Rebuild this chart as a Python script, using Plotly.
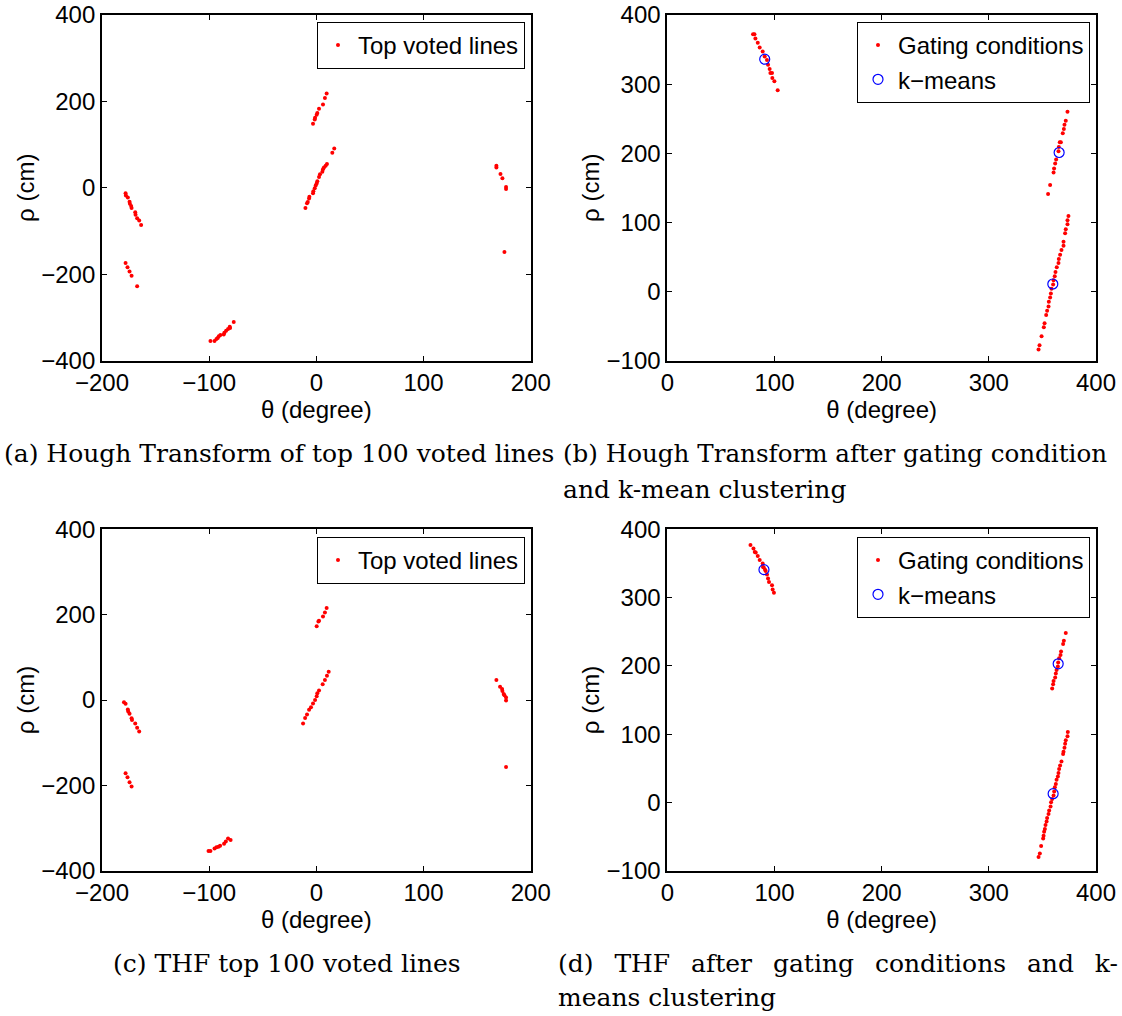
import plotly.graph_objects as go

# ---------------- data ----------------
# (a) Hough Transform of top 100 voted lines
a_theta = [-178, -177.7, -175.9, -174.3, -174, -172.8, -172.4, -169, -168.7, -167.2, -165.3, -163.5,
           -178, -176.2, -174.3, -172.4, -167.2,
           -98.8, -95, -93.2, -92, -91, -89.5, -86.4, -85.8, -84.2, -82.4, -80.8, -80.5, -77.1,
           -3.1, -1.5, -1.2, 0.3, 0.9, 2.5, 6.2, 8.0, 9.6,
           -10.2, -8.7, -8, -6.8, -6.5, -3.1, -2.8, -1.5, -0.6, 0.3, 0.9, 2.5, 3.4, 5.6, 6.2, 7.1, 8.7, 9.9, 14.9, 16.7,
           168, 168, 171.8, 173.6, 177, 177, 175.5]
a_rho = [-13, -17.7, -22.3, -32.3, -37, -42.3, -47, -57, -62.3, -70.8, -76, -86,
         -174, -184, -194, -204, -228,
         -355, -355, -350, -348, -344, -341, -340, -336, -331, -327, -322, -325, -311,
         148, 158, 162, 169, 173, 183, 193, 208, 218,
         -47, -36, -33, -25, -21, -13, -8, -1, 5, 10, 15, 25, 31, 37, 43, 47, 51, 55, 81, 91,
         51, 47, 32, 22, 2, -3, -149]

# (b) Hough Transform after gating condition and k-means clustering
b_theta = [80, 81.3, 82.2, 84.4, 86.2, 89, 90.9, 93, 94, 95.5, 96.2, 97.7, 98, 99.9, 103,
           373.4, 371.8, 370.6, 370, 369, 367.2, 366.2, 365.3, 365, 362.8, 361.9, 360.9, 360.4, 357.2, 355.3,
           374.3, 373.4, 373.4, 371.8, 371.2, 369.7, 369.7, 367.8, 366.5, 365.3, 365, 363.4, 362.2, 361.5,
           360.4, 360, 358.5, 357.9, 357.2, 356, 355.7, 354.4, 353.5, 352, 351.3, 349.2, 347.3, 346.4]
b_rho = [372, 372, 366, 360, 353, 347, 340, 335, 328, 322, 316, 316, 309, 304, 291,
         260, 247, 241, 235, 229, 216, 216, 209, 203, 191, 185, 178, 172, 154, 141,
         109, 103, 97, 90, 84, 72, 66, 60, 53, 47, 41, 35, 28, 22,
         16, 10, 4, -3, -9, -15, -22, -28, -34, -46, -52, -65, -78, -84]
b_km_theta = [90.9, 365.6, 359.7]
b_km_rho = [336, 201, 10.7]

# (c) THF top 100 voted lines
c_theta = [-179.5, -178, -175.9, -174.3, -172.4, -169, -167.2, -165.3, -175.5, -172,
           -178, -176.2, -174.3, -172.4,
           -100.6, -98.8, -95, -93.2, -91.3, -89.8, -86.1, -84.5, -82.4, -80,
           0.3, 1.9, 2.5, 6.2, 8, 9.6,
           -12.4, -10.5, -8.7, -6.8, -5, -3.1, -1.2, 0.3, 0.9, 2.5, 5.9, 8, 9.9, 11.5,
           168, 171.4, 173.3, 173.6, 174.8, 175.5, 177, 177, 177]
c_rho = [-5, -9, -22, -32, -43, -55, -65, -74, -27, -47,
         -172, -181, -193, -203,
         -354, -354, -348, -345, -344, -342, -337, -332, -325, -328,
         173, 184, 186, 196, 205, 216,
         -55, -42, -34, -23, -17, -8, 0, 9, 16, 22, 37, 47, 57, 66,
         47, 31, 26, 21, 14, 11, 6, -1, -157]

# (d) THF after gating conditions and k-means clustering
d_theta = [77.6, 80.4, 81.6, 82.5, 84.4, 86.2, 89, 89.3, 90, 91.2, 91.8, 93, 94, 94.9, 97.7, 98.3, 99.5,
           371.8, 370, 369.3, 367.4, 366.9, 365.6, 364.7, 364.4, 363.2, 362.5, 361.9, 360.4, 360, 359.1,
           373.7, 373.4, 371.8, 371.2, 370.6, 369.7, 369.3, 367.8, 366.5, 365.6, 365, 364.4, 363.2, 362.5,
           361.6, 361, 360.4, 359.1, 358.1, 357.6, 356.3, 355.7, 354.4, 353.9, 352.9, 352.3, 351.6, 351.1,
           350.7, 348.8, 347.6, 346.4]
d_rho = [377, 372, 367, 366, 361, 355, 350, 345, 344, 341, 339, 334, 328, 323, 318, 312, 307,
         248, 237, 232, 221, 216, 211, 205, 199, 194, 189, 183, 178, 173, 167,
         103, 97, 91, 86, 80, 74, 71, 60, 54, 49, 43, 38, 33, 27,
         22, 16, 10, 5, 0, -6, -12, -17, -23, -28, -33, -39, -43, -49,
         -53, -64, -75, -80]
d_km_theta = [90.2, 364.7, 360]
d_km_rho = [341, 203, 12.7]

# tick values
ticks_theta_ac = [-200, -100, 0, 100, 200]
ticks_rho_ac = [-400, -200, 0, 200, 400]
ticks_theta_bd = [0, 100, 200, 300, 400]
ticks_rho_bd = [-100, 0, 100, 200, 300, 400]

GAP = "\u00a0\u00a0\u2009"
captions = {
    "a": "(a) Hough Transform of top 100 voted lines",
    "b1": "(b) Hough Transform after gating condition",
    "b2": "and k-mean clustering",
    "c": "(c) THF top 100 voted lines",
    "d1": GAP.join(["(d)", "THF", "after", "gating", "conditions", "and", "k-"]),
    "d2": "means clustering",
}

# ---------------- figure ----------------
W, H = 1122, 1016
SANS = "Liberation Sans, Arial, sans-serif"
SERIF = "DejaVu Serif, serif"
FS = 24

fig = go.Figure()

def px_x(p):
    return p / W

def px_y(p):
    return 1 - p / H

red = dict(color="#ff0000", size=4, symbol="circle")
blue = dict(color="#0000ff", size=10, symbol="circle-open", line=dict(width=1.2, color="#0000ff"))

fig.add_trace(go.Scatter(x=a_theta, y=a_rho, mode="markers", marker=red, name="Top voted lines",
                         xaxis="x", yaxis="y", legend="legend"))
fig.add_trace(go.Scatter(x=b_theta, y=b_rho, mode="markers", marker=red, name="Gating conditions",
                         xaxis="x2", yaxis="y2", legend="legend2"))
fig.add_trace(go.Scatter(x=b_km_theta, y=b_km_rho, mode="markers", marker=blue, name="k\u2212means",
                         xaxis="x2", yaxis="y2", legend="legend2"))
fig.add_trace(go.Scatter(x=c_theta, y=c_rho, mode="markers", marker=red, name="Top voted lines",
                         xaxis="x3", yaxis="y3", legend="legend3"))
fig.add_trace(go.Scatter(x=d_theta, y=d_rho, mode="markers", marker=red, name="Gating conditions",
                         xaxis="x4", yaxis="y4", legend="legend4"))
fig.add_trace(go.Scatter(x=d_km_theta, y=d_km_rho, mode="markers", marker=blue, name="k\u2212means",
                         xaxis="x4", yaxis="y4", legend="legend4"))

# domains in window pixels
left_x = (102, 530.7)
right_x = (667.3, 1096)
top_y = (15, 360.5)
bot_y = (529.4, 870.6)

def xdom(r):
    return [px_x(r[0]), px_x(r[1])]

def ydom(r):
    return [px_y(r[1]), px_y(r[0])]

def axis_common():
    return dict(showline=True, linecolor="black", linewidth=1.8, mirror="allticks",
                ticks="inside", ticklen=5, tickwidth=1, tickcolor="black",
                showgrid=False, zeroline=False, automargin=False,
                tickfont=dict(family=SANS, size=FS, color="black"))

def xax(dom, rng, tv, anchor):
    d = axis_common()
    d.update(domain=xdom(dom), range=rng, tickvals=tv, anchor=anchor,
             title=dict(text="\u03b8 (degree)", font=dict(family=SANS, size=FS, color="black"), standoff=0))
    return d

def yax(dom, rng, tv, anchor):
    d = axis_common()
    d.update(domain=ydom(dom), range=rng, tickvals=tv, anchor=anchor,
             title=dict(text="\u03c1 (cm)", font=dict(family=SANS, size=FS, color="black"), standoff=0))
    return d

def legend(xr, yt):
    return dict(x=px_x(xr), y=px_y(yt), xanchor="right", yanchor="top", xref="paper", yref="paper",
                bgcolor="white", bordercolor="black", borderwidth=1,
                font=dict(family=SANS, size=FS, color="black"), itemwidth=30,
                tracegroupgap=0)

fig.update_layout(
    width=W, height=H,
    margin=dict(l=0, r=0, t=0, b=0),
    paper_bgcolor="white", plot_bgcolor="white",
    xaxis=xax(left_x, [-200, 200], ticks_theta_ac, "y"),
    yaxis=yax(top_y, [-400, 400], ticks_rho_ac, "x"),
    xaxis2=xax(right_x, [0, 400], ticks_theta_bd, "y2"),
    yaxis2=yax(top_y, [-100, 400], ticks_rho_bd, "x2"),
    xaxis3=xax(left_x, [-200, 200], ticks_theta_ac, "y3"),
    yaxis3=yax(bot_y, [-400, 400], ticks_rho_ac, "x3"),
    xaxis4=xax(right_x, [0, 400], ticks_theta_bd, "y4"),
    yaxis4=yax(bot_y, [-100, 400], ticks_rho_bd, "x4"),
    legend=legend(525, 22),
    legend2=legend(1090, 22),
    legend3=legend(525, 537),
    legend4=legend(1090, 537),
    showlegend=True,
)

def cap(text, xl, yc, size=25, anchor="left"):
    fig.add_annotation(text=text, x=px_x(xl), y=px_y(yc), xref="paper", yref="paper",
                       xanchor=anchor, yanchor="middle", showarrow=False,
                       font=dict(family=SERIF, size=size, color="black"))

cap(captions["a"], 2, 453)
cap(captions["b1"], 561, 453, size=24.6)
cap(captions["b2"], 561, 489)
cap(captions["c"], 287, 963, anchor="center")
cap(captions["d1"], 556, 963)
cap(captions["d2"], 556, 997)

# remove the page's default body margin so the figure sits at the window's top-left
fig.write_html("out.html", config={"displayModeBar": False},
               post_script="document.body.style.margin='0';")
